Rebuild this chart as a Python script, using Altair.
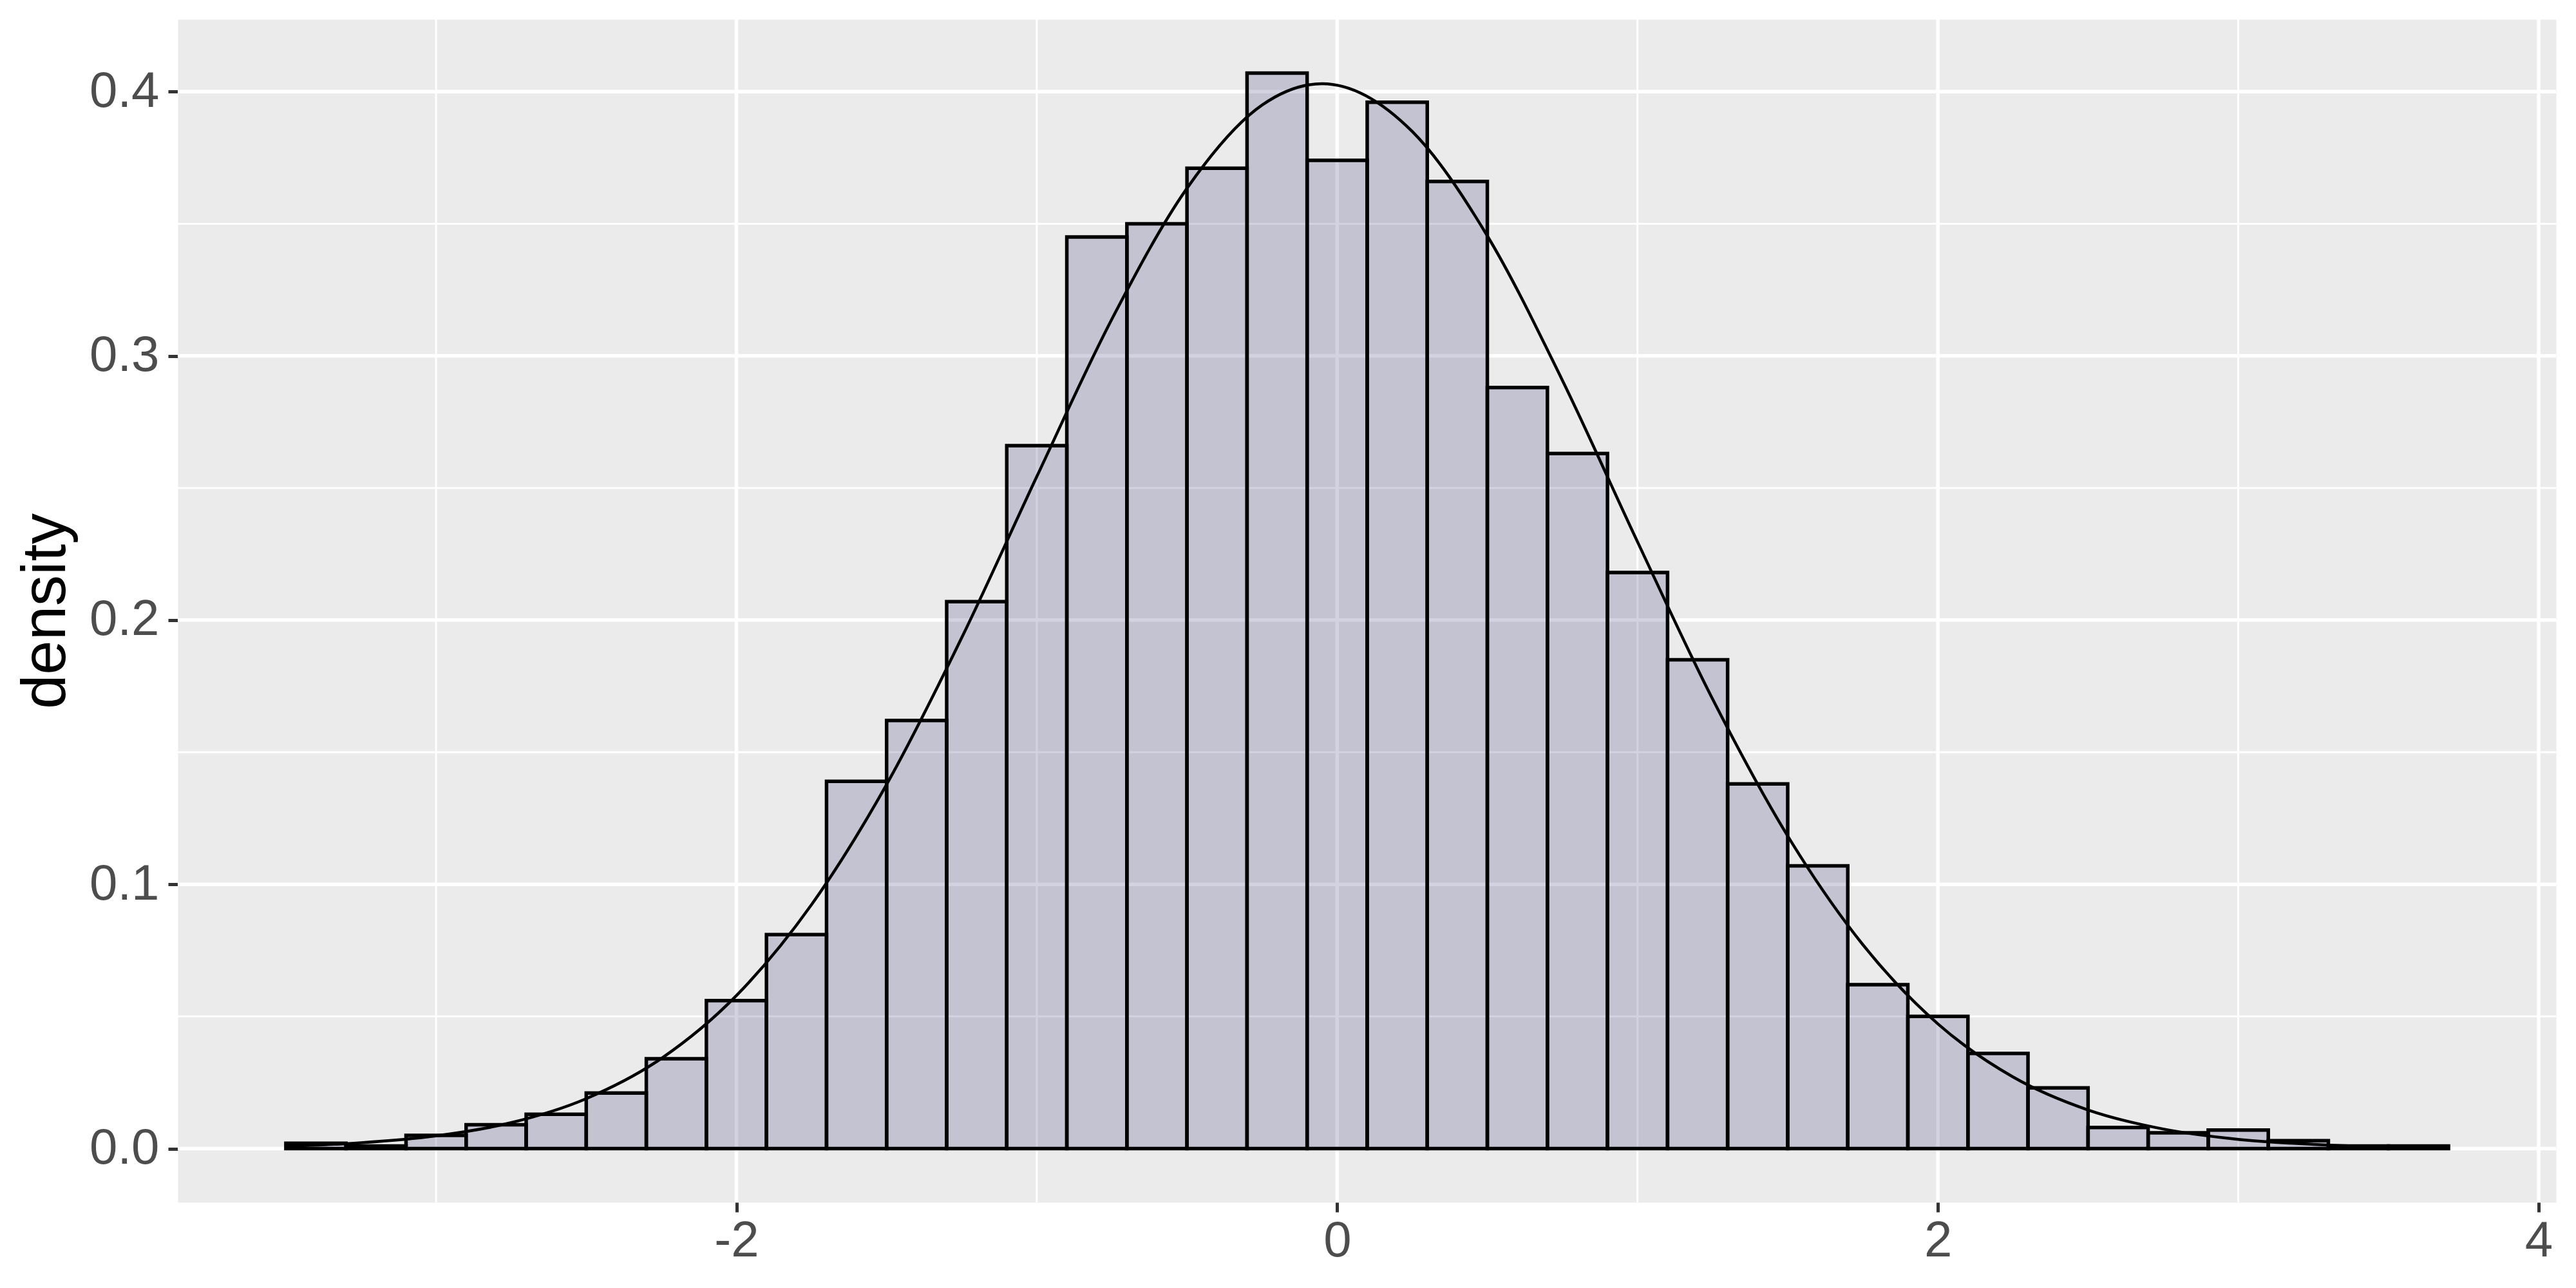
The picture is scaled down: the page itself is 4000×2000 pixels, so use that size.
import altair as alt
import pandas as pd

# Histogram bins (binwidth 0.2), centres and densities
bin_centers = [-3.4, -3.2, -3.0, -2.8, -2.6, -2.4, -2.2, -2.0, -1.8, -1.6, -1.4, -1.2,
               -1.0, -0.8, -0.6, -0.4, -0.2, 0.0, 0.2, 0.4, 0.6, 0.8, 1.0, 1.2,
               1.4, 1.6, 1.8, 2.0, 2.2, 2.4, 2.6, 2.8, 3.0, 3.2, 3.4, 3.6]
densities = [0.002, 0.001, 0.005, 0.009, 0.013, 0.021, 0.034, 0.056, 0.081, 0.139, 0.162, 0.207,
             0.266, 0.345, 0.350, 0.371, 0.407, 0.374, 0.396, 0.366, 0.288, 0.263, 0.218, 0.185,
             0.138, 0.107, 0.062, 0.050, 0.036, 0.023, 0.008, 0.006, 0.007, 0.003, 0.001, 0.001]
binwidth = 0.2

# Density curve points
curve_x = [-3.5, -3.25, -3.0, -2.75, -2.5, -2.25, -2.0, -1.75, -1.5, -1.25, -1.0, -0.75,
           -0.5, -0.25, -0.05, 0.25, 0.5, 0.75, 1.0, 1.25, 1.5, 1.75, 2.0, 2.25,
           2.5, 2.75, 3.0, 3.25, 3.5, 3.7]
curve_y = [0.0009, 0.0022, 0.0048, 0.0098, 0.0189, 0.0341, 0.0579, 0.0923, 0.1378, 0.1933,
           0.2543, 0.3139, 0.3634, 0.3949, 0.4030, 0.3849, 0.3454, 0.2907, 0.2296, 0.1701,
           0.1183, 0.0772, 0.0472, 0.0271, 0.0146, 0.0074, 0.0035, 0.0016, 0.0006, 0.0003]

# Axis ticks and grid positions
x_major = [-2, 0, 2, 4]
x_minor = [-3, -1, 1, 3]
y_major = [0.0, 0.1, 0.2, 0.3, 0.4]
y_minor = [0.05, 0.15, 0.25, 0.35]

W, H = 3693, 1837
FONT = "Liberation Sans"

hist = pd.DataFrame({"center": bin_centers, "density": densities})
hist["x1"] = hist["center"] - binwidth / 2
hist["x2"] = hist["center"] + binwidth / 2
curve = pd.DataFrame({"x": curve_x, "y": curve_y})

xscale = alt.Scale(domain=[-3.86, 4.058], nice=False, zero=False)
yscale = alt.Scale(domain=[-0.02035, 0.42735], nice=False, zero=False)

xaxis = alt.Axis(values=x_major, labelExpr="datum.value + ''", grid=False, domain=False,
                 tickColor="#333333", tickWidth=5, tickSize=15, labelFontSize=78,
                 labelColor="#4D4D4D", labelFont=FONT, labelPadding=6, title=None)
yaxis = alt.Axis(values=y_major, format=".1f", grid=False, domain=False,
                 tickColor="#333333", tickWidth=5, tickSize=15, labelFontSize=78,
                 labelColor="#4D4D4D", labelFont=FONT, labelPadding=14,
                 title="density", titleFontSize=96, titleFont=FONT, titleColor="#000000",
                 titleFontWeight="normal", titlePadding=18)


def vgrid(vals, w):
    return alt.Chart(pd.DataFrame({"v": vals})).mark_rule(color="white", strokeWidth=w).encode(
        x=alt.X("v:Q", scale=xscale, axis=xaxis), y=alt.value(0), y2=alt.value(H))


def hgrid(vals, w):
    return alt.Chart(pd.DataFrame({"v": vals})).mark_rule(color="white", strokeWidth=w).encode(
        y=alt.Y("v:Q", scale=yscale, axis=yaxis), x=alt.value(0), x2=alt.value(W))


bars = alt.Chart(hist).mark_rect(fill="#4B4B87", fillOpacity=0.25, stroke="black",
                                 strokeWidth=5.5).encode(
    x=alt.X("x1:Q", scale=xscale, axis=xaxis),
    x2="x2:Q",
    y=alt.Y("density:Q", scale=yscale, axis=yaxis),
    y2=alt.datum(0),
)

line = alt.Chart(curve).mark_line(color="black", strokeWidth=4.5, interpolate="monotone").encode(
    x=alt.X("x:Q", scale=xscale, axis=xaxis),
    y=alt.Y("y:Q", scale=yscale, axis=yaxis),
)

chart = alt.layer(
    hgrid(y_minor, 3), vgrid(x_minor, 3), hgrid(y_major, 5.5), vgrid(x_major, 5.5),
    bars, line
).properties(
    width=W, height=H,
    autosize=alt.AutoSizeParams(type="none"),
    padding={"left": 268, "top": 22, "right": 20, "bottom": 120},
    background="white",
).configure_view(fill="#EBEBEB", stroke="transparent")

chart.save("out.html", embed_options={"renderer": "svg", "actions": False})
